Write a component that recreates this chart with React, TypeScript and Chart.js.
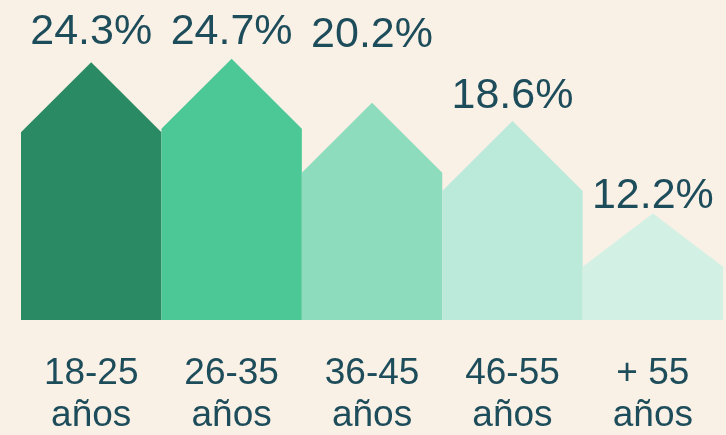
import React, { useEffect, useRef } from "react";
import { Chart, registerables } from "chart.js";

Chart.register(...registerables);

const CATEGORIES: string[][] = [
  ["18-25", "años"],
  ["26-35", "años"],
  ["36-45", "años"],
  ["46-55", "años"],
  ["+ 55", "años"],
];
const SHARES: number[] = [24.3, 24.7, 20.2, 18.6, 12.2];
const HOUSE_COLORS: string[] = ["#2a8a64", "#4cc796", "#8cdcbd", "#bbeada", "#d2f1e4"];
const LABEL_RAISE: number[] = [18, 15, 56, 13, 5];

const BG = "#f9f0e6";
const TEXT = "#1d4c5a";
const FONT = "'Liberation Sans', Arial, sans-serif";

const housePlugin = {
  id: "houses",
  beforeDraw(chart: any) {
    const { ctx, width, height } = chart;
    ctx.save();
    ctx.fillStyle = BG;
    ctx.fillRect(0, 0, width, height);
    ctx.restore();
  },
  afterDatasetsDraw(chart: any) {
    const ctx = chart.ctx;
    const meta = chart.getDatasetMeta(0);
    ctx.save();
    meta.data.forEach((el: any, i: number) => {
      const { x, y, base, width } = el.getProps(["x", "y", "base", "width"], true);
      const left = x - width / 2;
      const right = x + width / 2;
      const roof = Math.min(70, (base - y) / 2);
      ctx.beginPath();
      ctx.moveTo(left, base);
      ctx.lineTo(left, y + roof);
      ctx.lineTo(x, y);
      ctx.lineTo(right, y + roof);
      ctx.lineTo(right, base);
      ctx.closePath();
      ctx.fillStyle = HOUSE_COLORS[i];
      ctx.fill();
    });
    meta.data.forEach((el: any, i: number) => {
      const { x, y } = el.getProps(["x", "y"], true);
      ctx.font = `43px ${FONT}`;
      ctx.fillStyle = TEXT;
      ctx.textAlign = "center";
      ctx.textBaseline = "alphabetic";
      ctx.fillText(`${SHARES[i].toFixed(1)}%`, x, y - LABEL_RAISE[i]);
    });
    ctx.restore();
  },
};

export default function App() {
  const canvasRef = useRef<HTMLCanvasElement | null>(null);

  useEffect(() => {
    if (!canvasRef.current) return;
    const chart = new Chart(canvasRef.current, {
      type: "bar",
      data: {
        labels: CATEGORIES,
        datasets: [
          {
            data: SHARES,
            backgroundColor: "rgba(0,0,0,0)",
            borderWidth: 0,
            barPercentage: 1,
            categoryPercentage: 1,
          },
        ],
      },
      options: {
        responsive: false,
        animation: false,
        devicePixelRatio: 1,
        layout: { padding: { left: 21, right: -4, top: 0, bottom: -35 } },
        plugins: {
          legend: { display: false },
          tooltip: { enabled: false },
        },
        scales: {
          x: {
            grid: { display: false, drawTicks: false },
            border: { display: false },
            ticks: {
              color: TEXT,
              font: { family: FONT, size: 37, lineHeight: 1.135 },
              padding: 33,
              maxRotation: 0,
              autoSkip: false,
            },
          },
          y: {
            type: "logarithmic",
            display: false,
            min: 7.5,
            max: 32.3,
          },
        },
      },
      plugins: [housePlugin],
    });
    return () => chart.destroy();
  }, []);

  return (
    <div
      style={{
        position: "fixed",
        left: 0,
        top: 0,
        width: 726,
        height: 435,
        background: BG,
        overflow: "hidden",
      }}
    >
      <canvas ref={canvasRef} width={726} height={435} style={{ display: "block" }} />
    </div>
  );
}
